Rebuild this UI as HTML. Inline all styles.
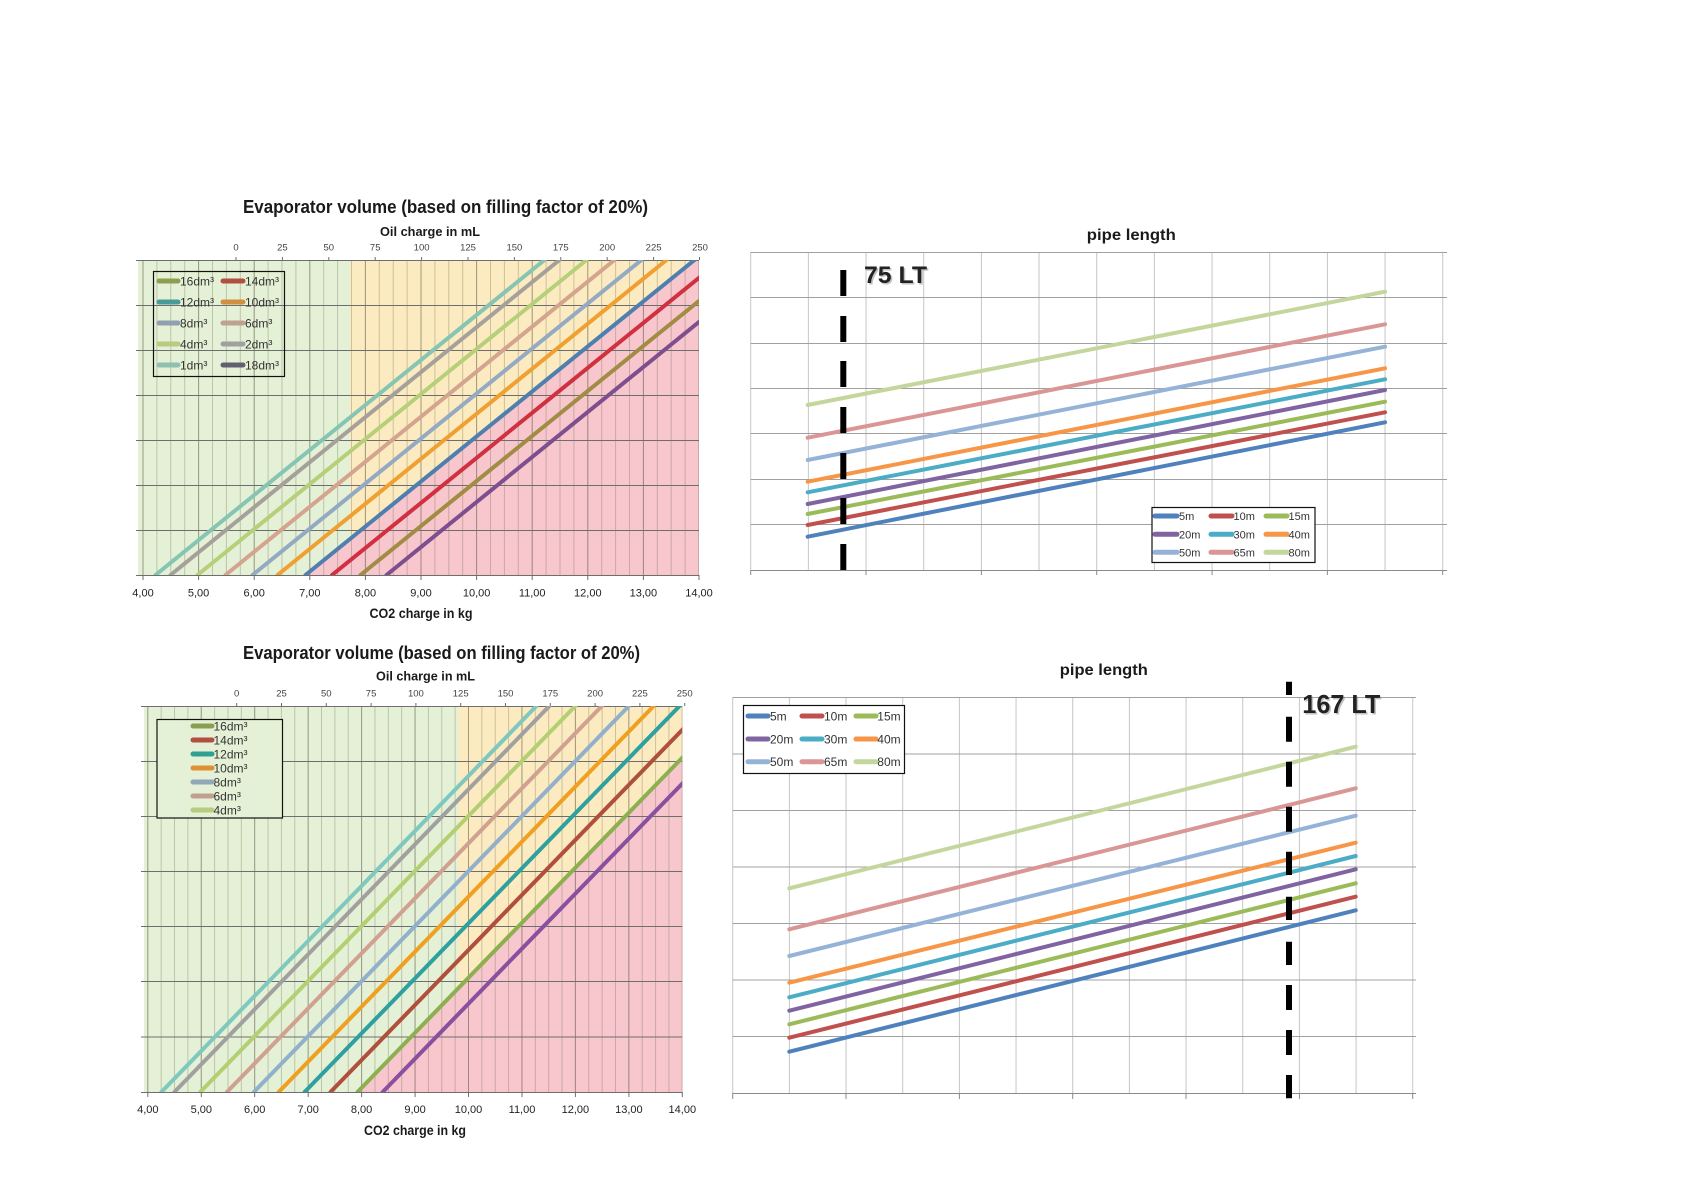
<!DOCTYPE html>
<html>
<head>
<meta charset="utf-8">
<style>
  html,body{margin:0;padding:0;background:#fff;}
  svg{display:block;}
  text{font-family:"Liberation Sans", Arial, sans-serif;}
</style>
</head>
<body>
<svg width="1686" height="1192" viewBox="0 0 1686 1192" xmlns="http://www.w3.org/2000/svg">
  <defs>
    <clipPath id="clipTL"><rect x="138" y="260" width="561" height="315"/></clipPath>
    <clipPath id="clipBL"><rect x="144" y="706" width="538.3" height="386"/></clipPath>
  </defs>
  <rect x="0" y="0" width="1686" height="1192" fill="#ffffff"/>

  <!-- ============ TOP-LEFT CHART ============ -->
  <text x="445.5" y="213" font-size="18" font-weight="bold" fill="#1a1a1a" text-anchor="middle" textLength="405" lengthAdjust="spacingAndGlyphs">Evaporator volume (based on filling factor of 20%)</text>
  <text x="430" y="236" font-size="13" font-weight="bold" fill="#1a1a1a" text-anchor="middle" textLength="100" lengthAdjust="spacingAndGlyphs">Oil charge in mL</text>
  <g font-size="9.5" fill="#444" text-anchor="middle">
    <text x="236" y="250.5">0</text><text x="282.4" y="250.5">25</text><text x="328.8" y="250.5">50</text>
    <text x="375.2" y="250.5">75</text><text x="421.6" y="250.5">100</text><text x="468" y="250.5">125</text>
    <text x="514.4" y="250.5">150</text><text x="560.8" y="250.5">175</text><text x="607.2" y="250.5">200</text>
    <text x="653.6" y="250.5">225</text><text x="700" y="250.5">250</text>
  </g>
  <!-- zones -->
  <g clip-path="url(#clipTL)">
    <rect x="138" y="260" width="561" height="315" fill="#e5f1d6"/>
    <rect x="350" y="260" width="349" height="315" fill="#fcebc0"/>
    <polygon points="305.5,575 694.5,260 760,260 760,575" fill="#f8c7cd"/>
    <!-- vertical grid -->
    <line x1="142.5" y1="417.5" x2="699.6" y2="417.5" stroke="rgba(110,105,80,0.33)" stroke-width="315" stroke-dasharray="1 12.9"/>
    <line x1="142.5" y1="417.5" x2="699.6" y2="417.5" stroke="rgba(80,75,60,0.35)" stroke-width="315" stroke-dasharray="1 54.6"/>
  </g>
  <g stroke="#6e6e6e" stroke-width="1">
    <line x1="136" y1="260.5" x2="699" y2="260.5"/>
    <line x1="136" y1="305.5" x2="699" y2="305.5"/>
    <line x1="136" y1="350.5" x2="699" y2="350.5"/>
    <line x1="136" y1="395.5" x2="699" y2="395.5"/>
    <line x1="136" y1="440.5" x2="699" y2="440.5"/>
    <line x1="136" y1="485.5" x2="699" y2="485.5"/>
    <line x1="136" y1="530.5" x2="699" y2="530.5"/>
    <line x1="136" y1="575.5" x2="699" y2="575.5"/>
  </g>
  <g stroke="#6e6e6e" stroke-width="1">
    <path d="M236 257V260M282.4 257V260M328.8 257V260M375.2 257V260M421.6 257V260M468 257V260M514.4 257V260M560.8 257V260M607.2 257V260M653.6 257V260M699.5 257V260"/>
    <path d="M143 575V580M198.6 575V580M254.2 575V580M309.8 575V580M365.4 575V580M421 575V580M476.6 575V580M532.2 575V580M587.8 575V580M643.4 575V580M699 575V580"/>
  </g>
  <!-- series -->
  <g clip-path="url(#clipTL)" stroke-width="4" stroke-linecap="round" fill="none">
    <line x1="155.5" y1="575" x2="544.5" y2="260" stroke="#86c5b3"/>
    <line x1="170.5" y1="575" x2="559.5" y2="260" stroke="#a5a09a"/>
    <line x1="197.5" y1="575" x2="586.5" y2="260" stroke="#b6d07a"/>
    <line x1="225.5" y1="575" x2="614.5" y2="260" stroke="#d4a48e"/>
    <line x1="252.5" y1="575" x2="641.5" y2="260" stroke="#93aac2"/>
    <line x1="277.5" y1="575" x2="666.5" y2="260" stroke="#f0a030"/>
    <line x1="305.5" y1="575" x2="694.5" y2="260" stroke="#4f7fae"/>
    <line x1="332" y1="575" x2="721" y2="260" stroke="#d03040"/>
    <line x1="360.5" y1="575" x2="749.5" y2="260" stroke="#a08c42"/>
    <line x1="386.5" y1="575" x2="775.5" y2="260" stroke="#7e4e8e"/>
  </g>
  <!-- legend -->
  <rect x="153.5" y="271.5" width="131" height="105" fill="none" stroke="#111" stroke-width="1.2"/>
  <g stroke-width="5" stroke-linecap="round">
    <line x1="159" y1="281" x2="178" y2="281" stroke="#8aa050"/>
    <line x1="223" y1="281" x2="243" y2="281" stroke="#b05040"/>
    <line x1="159" y1="302" x2="178" y2="302" stroke="#4a9a98"/>
    <line x1="223" y1="302" x2="243" y2="302" stroke="#d09040"/>
    <line x1="159" y1="323" x2="178" y2="323" stroke="#90a0b0"/>
    <line x1="223" y1="323" x2="243" y2="323" stroke="#c0a090"/>
    <line x1="159" y1="344" x2="178" y2="344" stroke="#b8cc80"/>
    <line x1="223" y1="344" x2="243" y2="344" stroke="#a0a0a0"/>
    <line x1="159" y1="365" x2="178" y2="365" stroke="#90c0b0"/>
    <line x1="223" y1="365" x2="243" y2="365" stroke="#606070"/>
  </g>
  <g font-size="12" fill="#333">
    <text x="180" y="285.5">16dm³</text><text x="245" y="285.5">14dm³</text>
    <text x="180" y="306.5">12dm³</text><text x="245" y="306.5">10dm³</text>
    <text x="180" y="327.5">8dm³</text><text x="245" y="327.5">6dm³</text>
    <text x="180" y="348.5">4dm³</text><text x="245" y="348.5">2dm³</text>
    <text x="180" y="369.5">1dm³</text><text x="245" y="369.5">18dm³</text>
  </g>
  <g font-size="11" fill="#222" text-anchor="middle">
    <text x="143" y="596.5">4,00</text><text x="198.6" y="596.5">5,00</text><text x="254.2" y="596.5">6,00</text>
    <text x="309.8" y="596.5">7,00</text><text x="365.4" y="596.5">8,00</text><text x="421" y="596.5">9,00</text>
    <text x="476.6" y="596.5">10,00</text><text x="532.2" y="596.5">11,00</text><text x="587.8" y="596.5">12,00</text>
    <text x="643.4" y="596.5">13,00</text><text x="699" y="596.5">14,00</text>
  </g>
  <text x="421" y="618" font-size="13.5" font-weight="bold" fill="#1a1a1a" text-anchor="middle" textLength="103" lengthAdjust="spacingAndGlyphs">CO2 charge in kg</text>

  <!-- ============ BOTTOM-LEFT CHART ============ -->
  <text x="441.5" y="659" font-size="18" font-weight="bold" fill="#1a1a1a" text-anchor="middle" textLength="397" lengthAdjust="spacingAndGlyphs">Evaporator volume (based on filling factor of 20%)</text>
  <text x="425.5" y="680.5" font-size="13" font-weight="bold" fill="#1a1a1a" text-anchor="middle" textLength="99" lengthAdjust="spacingAndGlyphs">Oil charge in mL</text>
  <g font-size="9.5" fill="#444" text-anchor="middle">
    <text x="236.7" y="696.5">0</text><text x="281.5" y="696.5">25</text><text x="326.3" y="696.5">50</text>
    <text x="371.1" y="696.5">75</text><text x="415.9" y="696.5">100</text><text x="460.7" y="696.5">125</text>
    <text x="505.5" y="696.5">150</text><text x="550.3" y="696.5">175</text><text x="595.1" y="696.5">200</text>
    <text x="639.9" y="696.5">225</text><text x="684.7" y="696.5">250</text>
  </g>
  <g clip-path="url(#clipBL)">
    <rect x="144" y="706" width="538.3" height="386" fill="#e5f1d6"/>
    <rect x="458.3" y="706" width="224" height="386" fill="#fcebc0"/>
    <polygon points="357.5,1092 732.5,706 760,706 760,1092" fill="#f8c7cd"/>
    <line x1="147.3" y1="899" x2="683" y2="899" stroke="rgba(110,105,80,0.33)" stroke-width="386" stroke-dasharray="1 12.3625"/>
    <line x1="147.3" y1="899" x2="683" y2="899" stroke="rgba(80,75,60,0.35)" stroke-width="386" stroke-dasharray="1 52.45"/>
  </g>
  <g stroke="#6e6e6e" stroke-width="1">
    <line x1="141" y1="706.5" x2="682.3" y2="706.5"/>
    <line x1="141" y1="761.5" x2="682.3" y2="761.5"/>
    <line x1="141" y1="816.5" x2="682.3" y2="816.5"/>
    <line x1="141" y1="871.5" x2="682.3" y2="871.5"/>
    <line x1="141" y1="926.5" x2="682.3" y2="926.5"/>
    <line x1="141" y1="981.5" x2="682.3" y2="981.5"/>
    <line x1="141" y1="1037" x2="682.3" y2="1037"/>
    <line x1="141" y1="1092.5" x2="682.3" y2="1092.5"/>
    <path d="M236.7 703V706M281.5 703V706M326.3 703V706M371.1 703V706M415.9 703V706M460.7 703V706M505.5 703V706M550.3 703V706M595.1 703V706M639.9 703V706M684.7 703V706"/>
    <path d="M147.8 1092V1097M201.3 1092V1097M254.7 1092V1097M308.2 1092V1097M361.6 1092V1097M415.1 1092V1097M468.5 1092V1097M522 1092V1097M575.4 1092V1097M628.9 1092V1097M682.3 1092V1097"/>
  </g>
  <g clip-path="url(#clipBL)" stroke-width="4" stroke-linecap="round" fill="none">
    <line x1="161.4" y1="1092" x2="536.4" y2="706" stroke="#7fc8bf"/>
    <line x1="174.4" y1="1092" x2="549.4" y2="706" stroke="#a0a0a0"/>
    <line x1="200.3" y1="1092" x2="575.3" y2="706" stroke="#b2d072"/>
    <line x1="226.9" y1="1092" x2="601.9" y2="706" stroke="#d0a090"/>
    <line x1="253.9" y1="1092" x2="628.9" y2="706" stroke="#90b0cc"/>
    <line x1="278.7" y1="1092" x2="653.7" y2="706" stroke="#f0a020"/>
    <line x1="304.6" y1="1092" x2="679.6" y2="706" stroke="#2fa0a0"/>
    <line x1="330.5" y1="1092" x2="705.5" y2="706" stroke="#b0503c"/>
    <line x1="357.5" y1="1092" x2="732.5" y2="706" stroke="#8cb050"/>
    <line x1="382.7" y1="1092" x2="757.7" y2="706" stroke="#8a50a0"/>
  </g>
  <rect x="157" y="719.5" width="125.5" height="98.5" fill="#e5f1d6" stroke="#111" stroke-width="1.2"/>
  <g stroke-width="5" stroke-linecap="round">
    <line x1="193" y1="726" x2="212" y2="726" stroke="#8aa050"/>
    <line x1="193" y1="740" x2="212" y2="740" stroke="#b05040"/>
    <line x1="193" y1="754" x2="212" y2="754" stroke="#30a090"/>
    <line x1="193" y1="768" x2="212" y2="768" stroke="#e09030"/>
    <line x1="193" y1="782" x2="212" y2="782" stroke="#90a8b8"/>
    <line x1="193" y1="796" x2="212" y2="796" stroke="#c0a090"/>
    <line x1="193" y1="810" x2="212" y2="810" stroke="#b8cc80"/>
  </g>
  <g font-size="12" fill="#333">
    <text x="213.5" y="730.5">16dm³</text>
    <text x="213.5" y="744.5">14dm³</text>
    <text x="213.5" y="758.5">12dm³</text>
    <text x="213.5" y="772.5">10dm³</text>
    <text x="213.5" y="786.5">8dm³</text>
    <text x="213.5" y="800.5">6dm³</text>
    <text x="213.5" y="814.5">4dm³</text>
  </g>
  <g font-size="11" fill="#222" text-anchor="middle">
    <text x="147.8" y="1113">4,00</text><text x="201.3" y="1113">5,00</text><text x="254.7" y="1113">6,00</text>
    <text x="308.2" y="1113">7,00</text><text x="361.6" y="1113">8,00</text><text x="415.1" y="1113">9,00</text>
    <text x="468.5" y="1113">10,00</text><text x="522" y="1113">11,00</text><text x="575.4" y="1113">12,00</text>
    <text x="628.9" y="1113">13,00</text><text x="682.3" y="1113">14,00</text>
  </g>
  <text x="415" y="1135" font-size="13.5" font-weight="bold" fill="#1a1a1a" text-anchor="middle" textLength="102" lengthAdjust="spacingAndGlyphs">CO2 charge in kg</text>

  <!-- ============ TOP-RIGHT CHART ============ -->
  <text x="1131.3" y="240" font-size="16" font-weight="bold" fill="#1a1a1a" text-anchor="middle" textLength="89" lengthAdjust="spacingAndGlyphs">pipe length</text>
  <line x1="750.2" y1="411.15" x2="1443.5" y2="411.15" stroke="#c6c6c6" stroke-width="317.7" stroke-dasharray="1 56.67"/>
  <g stroke="#a0a0a0" stroke-width="1">
    <line x1="750.7" y1="252.5" x2="1447" y2="252.5"/>
    <line x1="750.7" y1="297.5" x2="1447" y2="297.5"/>
    <line x1="750.7" y1="343.5" x2="1447" y2="343.5"/>
    <line x1="750.7" y1="388.5" x2="1447" y2="388.5"/>
    <line x1="750.7" y1="433.5" x2="1447" y2="433.5"/>
    <line x1="750.7" y1="479.5" x2="1447" y2="479.5"/>
    <line x1="750.7" y1="524.5" x2="1447" y2="524.5"/>
  </g>
  <line x1="750.7" y1="570.5" x2="1447" y2="570.5" stroke="#8a8a8a" stroke-width="1"/>
  <path d="M750.7 570V575M866 570V575M981.4 570V575M1096.7 570V575M1212.1 570V575M1327.4 570V575M1442.7 570V575" stroke="#8a8a8a" stroke-width="1"/>
  <g stroke-width="4" stroke-linecap="round" fill="none">
    <line x1="807.7" y1="405" x2="1385" y2="291.7" stroke="#c3d69b"/>
    <line x1="807.7" y1="437.7" x2="1385" y2="324.3" stroke="#d99694"/>
    <line x1="807.7" y1="460" x2="1385" y2="346.7" stroke="#95b3d7"/>
    <line x1="807.7" y1="481.7" x2="1385" y2="368.3" stroke="#f79646"/>
    <line x1="807.7" y1="492.3" x2="1385" y2="379.3" stroke="#4bacc6"/>
    <line x1="807.7" y1="504" x2="1385" y2="390" stroke="#8064a2"/>
    <line x1="807.7" y1="514" x2="1385" y2="401.7" stroke="#9bbb59"/>
    <line x1="807.7" y1="525" x2="1385" y2="412.3" stroke="#c0504d"/>
    <line x1="807.7" y1="536.7" x2="1385" y2="422.3" stroke="#4f81bd"/>
  </g>
  <path d="M843.3 270V296M843.3 316V342M843.3 361V387M843.3 407V433M843.3 453V479M843.3 498V524M843.3 544V570" stroke="#000" stroke-width="6"/>
  <text x="865.5" y="284.5" font-size="24" font-weight="bold" fill="#9a9a9a" opacity="0.6" textLength="63" lengthAdjust="spacingAndGlyphs">75 LT</text>
  <text x="864" y="283" font-size="24" font-weight="bold" fill="#222" textLength="63" lengthAdjust="spacingAndGlyphs">75 LT</text>
  <!-- legend -->
  <rect x="1152" y="507.5" width="163" height="55" fill="#fff" stroke="#111" stroke-width="1.2"/>
  <g stroke-width="5" stroke-linecap="round">
    <line x1="1155" y1="516" x2="1177" y2="516" stroke="#4f81bd"/>
    <line x1="1211" y1="516" x2="1232" y2="516" stroke="#c0504d"/>
    <line x1="1266" y1="516" x2="1287" y2="516" stroke="#9bbb59"/>
    <line x1="1155" y1="534.3" x2="1177" y2="534.3" stroke="#8064a2"/>
    <line x1="1211" y1="534.3" x2="1232" y2="534.3" stroke="#4bacc6"/>
    <line x1="1266" y1="534.3" x2="1287" y2="534.3" stroke="#f79646"/>
    <line x1="1155" y1="552.3" x2="1177" y2="552.3" stroke="#95b3d7"/>
    <line x1="1211" y1="552.3" x2="1232" y2="552.3" stroke="#d99694"/>
    <line x1="1266" y1="552.3" x2="1287" y2="552.3" stroke="#c3d69b"/>
  </g>
  <g font-size="11" fill="#333">
    <text x="1179" y="520">5m</text><text x="1233.5" y="520">10m</text><text x="1288.5" y="520">15m</text>
    <text x="1179" y="538.3">20m</text><text x="1233.5" y="538.3">30m</text><text x="1288.5" y="538.3">40m</text>
    <text x="1179" y="556.3">50m</text><text x="1233.5" y="556.3">65m</text><text x="1288.5" y="556.3">80m</text>
  </g>

  <!-- ============ BOTTOM-RIGHT CHART ============ -->
  <text x="1103.8" y="675" font-size="16" font-weight="bold" fill="#1a1a1a" text-anchor="middle" textLength="88" lengthAdjust="spacingAndGlyphs">pipe length</text>
  <line x1="732.2" y1="895.3" x2="1413.5" y2="895.3" stroke="#c6c6c6" stroke-width="396" stroke-dasharray="1 55.67"/>
  <g stroke="#a0a0a0" stroke-width="1">
    <line x1="732.7" y1="697.5" x2="1416" y2="697.5"/>
    <line x1="732.7" y1="754" x2="1416" y2="754"/>
    <line x1="732.7" y1="810.5" x2="1416" y2="810.5"/>
    <line x1="732.7" y1="867" x2="1416" y2="867"/>
    <line x1="732.7" y1="923.5" x2="1416" y2="923.5"/>
    <line x1="732.7" y1="980" x2="1416" y2="980"/>
    <line x1="732.7" y1="1036.5" x2="1416" y2="1036.5"/>
  </g>
  <line x1="732.7" y1="1093.5" x2="1416" y2="1093.5" stroke="#8a8a8a" stroke-width="1"/>
  <path d="M732.7 1093V1099M846 1093V1099M959.4 1093V1099M1072.7 1093V1099M1186 1093V1099M1299.4 1093V1099M1412.7 1093V1099" stroke="#8a8a8a" stroke-width="1"/>
  <g stroke-width="4" stroke-linecap="round" fill="none">
    <line x1="789.3" y1="888.3" x2="1355.7" y2="746.7" stroke="#c3d69b"/>
    <line x1="789.3" y1="929.3" x2="1355.7" y2="788.3" stroke="#d99694"/>
    <line x1="789.3" y1="956" x2="1355.7" y2="815.7" stroke="#95b3d7"/>
    <line x1="789.3" y1="982.7" x2="1355.7" y2="842.7" stroke="#f79646"/>
    <line x1="789.3" y1="997.3" x2="1355.7" y2="856" stroke="#4bacc6"/>
    <line x1="789.3" y1="1010.7" x2="1355.7" y2="869.3" stroke="#8064a2"/>
    <line x1="789.3" y1="1024.3" x2="1355.7" y2="883.3" stroke="#9bbb59"/>
    <line x1="789.3" y1="1037.7" x2="1355.7" y2="896.7" stroke="#c0504d"/>
    <line x1="789.3" y1="1051.7" x2="1355.7" y2="910.3" stroke="#4f81bd"/>
  </g>
  <path d="M1289 681.7V695M1289 716.7V741.7M1289 761.7V786.7M1289 806.7V831.7M1289 851.7V875M1289 896.7V920M1289 941.7V965M1289 985V1010M1289 1030V1055M1289 1075V1098.3" stroke="#000" stroke-width="6"/>
  <text x="1303.8" y="714.5" font-size="26" font-weight="bold" fill="#9a9a9a" opacity="0.6" textLength="78" lengthAdjust="spacingAndGlyphs">167 LT</text>
  <text x="1302.3" y="713" font-size="26" font-weight="bold" fill="#222" textLength="78" lengthAdjust="spacingAndGlyphs">167 LT</text>
  <rect x="743.5" y="705.5" width="161" height="68" fill="#fff" stroke="#111" stroke-width="1.2"/>
  <g stroke-width="5" stroke-linecap="round">
    <line x1="748" y1="716" x2="768" y2="716" stroke="#4f81bd"/>
    <line x1="802" y1="716" x2="822" y2="716" stroke="#c0504d"/>
    <line x1="856" y1="716" x2="876" y2="716" stroke="#9bbb59"/>
    <line x1="748" y1="739" x2="768" y2="739" stroke="#8064a2"/>
    <line x1="802" y1="739" x2="822" y2="739" stroke="#4bacc6"/>
    <line x1="856" y1="739" x2="876" y2="739" stroke="#f79646"/>
    <line x1="748" y1="761.7" x2="768" y2="761.7" stroke="#95b3d7"/>
    <line x1="802" y1="761.7" x2="822" y2="761.7" stroke="#d99694"/>
    <line x1="856" y1="761.7" x2="876" y2="761.7" stroke="#c3d69b"/>
  </g>
  <g font-size="12" fill="#333">
    <text x="770" y="720.3">5m</text><text x="824" y="720.3">10m</text><text x="877.3" y="720.3">15m</text>
    <text x="770" y="743.3">20m</text><text x="824" y="743.3">30m</text><text x="877.3" y="743.3">40m</text>
    <text x="770" y="766">50m</text><text x="824" y="766">65m</text><text x="877.3" y="766">80m</text>
  </g>
</svg>
</body>
</html>
